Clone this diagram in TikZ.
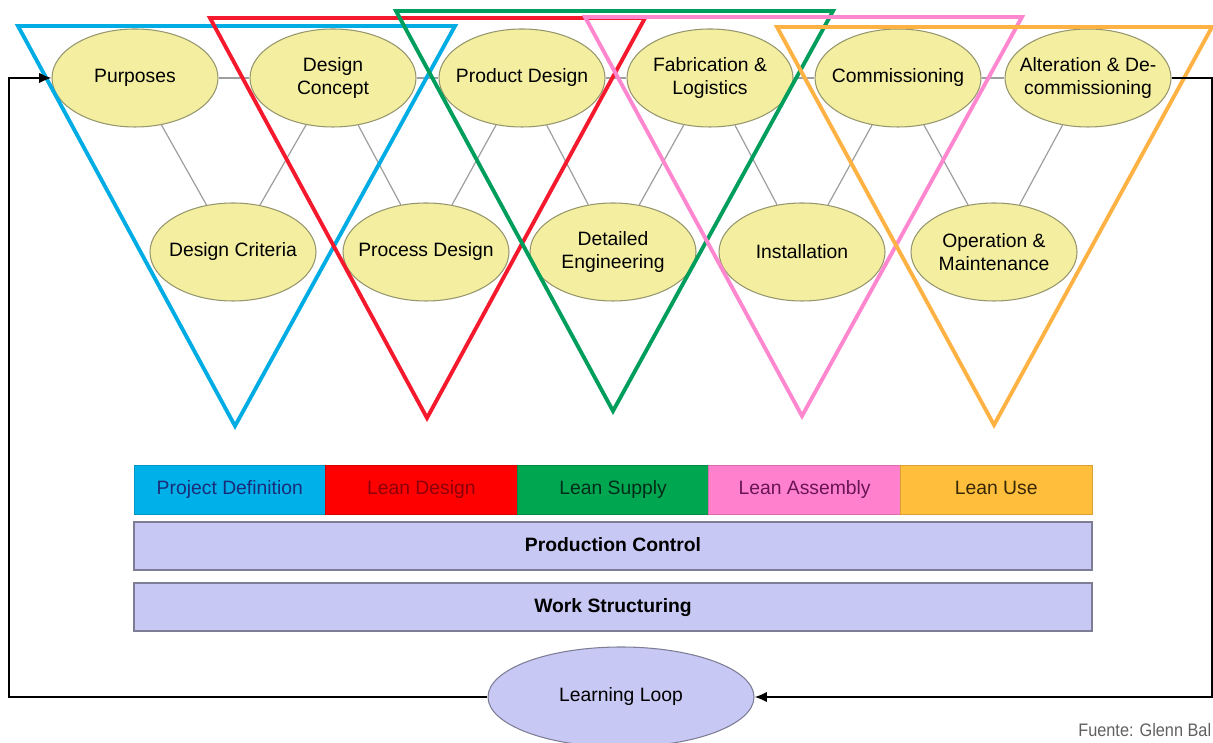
\documentclass[tikz,border=0pt]{standalone}
\usepackage{fontspec}
\setmainfont{Liberation Sans}
\definecolor{defcyan}{RGB}{0, 172, 228}
\definecolor{desred}{RGB}{245, 25, 45}
\definecolor{supgreen}{RGB}{0, 158, 92}
\definecolor{asmpink}{RGB}{255, 135, 208}
\definecolor{useorange}{RGB}{255, 178, 68}
\definecolor{barcyan}{RGB}{0, 176, 232}
\definecolor{barred}{RGB}{255, 0, 0}
\definecolor{bargreen}{RGB}{0, 166, 80}
\definecolor{barpink}{RGB}{255, 128, 204}
\definecolor{barorange}{RGB}{255, 190, 60}
\definecolor{phasefill}{RGB}{244, 239, 160}
\definecolor{phaseline}{RGB}{150, 150, 110}
\definecolor{ctrlfill}{RGB}{200, 200, 245}
\definecolor{ctrlline}{RGB}{125, 125, 150}
\usetikzlibrary{shapes, arrows.meta, positioning, calc}

\begin{document}
\begin{tikzpicture}[
  phase/.style={ellipse, draw=phaseline, fill=phasefill, line width=0.6pt, minimum width=3.32cm, minimum height=1.96cm, inner xsep=-0.35cm, inner ysep=0pt, align=center, font=\fontsize{11}{13}\selectfont},
  link/.style={draw=gray!75, line width=0.7pt},
  vee/.style={draw=#1, line width=2.2pt, line join=miter},
  stage/.style={draw=#1!85!black, fill=#1, line width=0.4pt, minimum width=3.832cm, minimum height=0.98cm, inner sep=0pt, outer sep=0pt, text height=1.6ex, text depth=0.45ex, font=\fontsize{11}{13}\selectfont},
  band/.style={draw=ctrlline, fill=ctrlfill, line width=0.6pt, minimum width=19.16cm, minimum height=0.96cm, inner sep=0pt, text height=1.6ex, text depth=0.45ex, font=\fontsize{11}{13}\selectfont\bfseries},
  looparr/.style={line width=1.1pt, -{Latex[length=7pt, width=6pt]}},
]
  \useasboundingbox (0,0) rectangle (24.26,14.84);

  % Project phases, top row
  \node[phase] (pur) at (2.70, 13.28) {Purposes};
  \node[phase] (con) at (6.66, 13.28) {Design\\Concept};
  \node[phase] (prd) at (10.44, 13.28) {Product Design};
  \node[phase] (fab) at (14.20, 13.28) {Fabrication \&\\Logistics};
  \node[phase] (com) at (17.96, 13.28) {Commissioning};
  \node[phase] (alt) at (21.76, 13.28) {Alteration \& De-\\commissioning};

  % Project phases, bottom row
  \node[phase] (cri) at (4.66, 9.80) {Design Criteria};
  \node[phase] (prc) at (8.52, 9.80) {Process Design};
  \node[phase] (det) at (12.26, 9.80) {Detailed\\Engineering};
  \node[phase] (ins) at (16.04, 9.80) {Installation};
  \node[phase] (ope) at (19.88, 9.80) {Operation \&\\Maintenance};

  % Links between phases
  \foreach \a/\b in {pur/con, con/prd, prd/fab, fab/com, com/alt}
    \draw[link] (\a) -- (\b);
  \foreach \a/\b in {pur/cri, con/cri, con/prc, prd/prc, prd/det, fab/det, fab/ins, com/ins, com/ope, alt/ope}
    \draw[link] (\a) -- (\b);

  % Overlapping modules
  \draw[vee=defcyan] (0.36, 14.32) -- (9.10, 14.32) -- (4.70, 6.32) -- cycle;
  \draw[vee=desred] (4.20, 14.48) -- (12.90, 14.48) -- (8.54, 6.48) -- cycle;
  \draw[vee=supgreen] (7.92, 14.62) -- (16.66, 14.62) -- (12.26, 6.62) -- cycle;
  \draw[vee=asmpink] (11.70, 14.50) -- (20.44, 14.50) -- (16.04, 6.52) -- cycle;
  \draw[vee=useorange] (15.54, 14.30) -- (24.24, 14.30) -- (19.88, 6.34) -- cycle;

  % Module bar
  \node[stage=barcyan, text={rgb,255:red,25;green,45;blue,120}] (sdef) at (4.596, 5.05) {Project Definition};
  \node[stage=barred, text={rgb,255:red,140;green,0;blue,10}, right=0pt of sdef] (sdes) {Lean Design};
  \node[stage=bargreen, text={rgb,255:red,0;green,45;blue,25}, right=0pt of sdes] (ssup) {Lean Supply};
  \node[stage=barpink, text={rgb,255:red,105;green,20;blue,85}, right=0pt of ssup] (sasm) {Lean Assembly};
  \node[stage=barorange, text={rgb,255:red,55;green,40;blue,5}, right=0pt of sasm] (suse) {Lean Use};

  % Control layers
  \node[band] (ctrl) at (12.26, 3.92) {Production Control};
  \node[band] (work) at (12.26, 2.70) {Work Structuring};

  % Learning loop
  \node[ellipse, draw=ctrlline, fill=ctrlfill, line width=0.6pt, minimum width=5.32cm, minimum height=2.0cm, inner sep=0pt, font=\fontsize{11}{13}\selectfont] (ll) at (12.42, 0.90) {Learning Loop};
  \coordinate (lc) at (0.18, 0.90);
  \coordinate (rc) at (24.24, 0.90);
  \draw[looparr] (ll.west) -- (lc) |- (pur.west);
  \draw[looparr] (alt.east) -| (rc) -- (ll.east);

  \node[anchor=base west, inner sep=0pt, text=gray!75!black, font=\fontsize{10.3}{12}\selectfont] (src) at (21.56, 0.12) {\scalebox{0.9}[1]{Fuente: Glenn Bal}};
\end{tikzpicture}
\end{document}
